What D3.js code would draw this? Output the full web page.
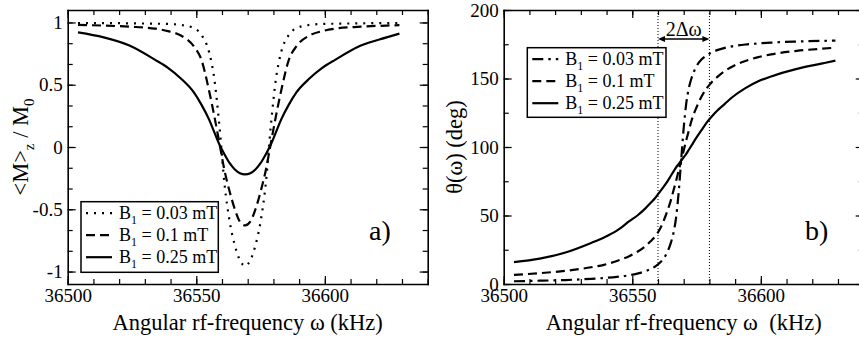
<!DOCTYPE html>
<html>
<head>
<meta charset="utf-8">
<script src="https://cdnjs.cloudflare.com/ajax/libs/d3/7.8.5/d3.min.js"></script>
<style>
  body { margin: 0; background: #fff; }
</style>
</head>
<body>
<div id="chart"></div>
<script>
// Two panel figure: <M>z/M0 and theta(omega) against rf-frequency

// Data (kHz)
const freqA = [36504, 36514, 36524, 36534, 36539, 36544, 36549, 36552, 36555, 36557, 36559, 36561, 36563, 36565, 36567, 36569,
  36571, 36573, 36575, 36577, 36579, 36581, 36583, 36586, 36589, 36594, 36599, 36604, 36614, 36624, 36629]
const mzDotted = [0.995, 0.995, 0.993, 0.99, 0.988, 0.98, 0.955, 0.90, 0.76, 0.55, 0.17, -0.30, -0.60, -0.79, -0.91, -0.955,
  -0.91, -0.79, -0.60, -0.30, 0.17, 0.55, 0.76, 0.90, 0.955, 0.98, 0.988, 0.99, 0.993, 0.995, 0.995]
const mzDashed = [0.98, 0.975, 0.966, 0.95, 0.93, 0.895, 0.81, 0.70, 0.45, 0.25, 0.03, -0.19, -0.36, -0.50, -0.60, -0.63,
  -0.60, -0.50, -0.36, -0.19, 0.03, 0.25, 0.45, 0.70, 0.81, 0.895, 0.93, 0.95, 0.966, 0.975, 0.978]
const mzSolid = [0.92, 0.88, 0.815, 0.70, 0.635, 0.55, 0.44, 0.34, 0.22, 0.12, 0.02, -0.06, -0.13, -0.18, -0.21, -0.22,
  -0.21, -0.18, -0.13, -0.06, 0.02, 0.12, 0.22, 0.34, 0.44, 0.55, 0.635, 0.70, 0.815, 0.88, 0.91]

const freqB = [36504, 36514, 36524, 36534, 36539, 36544, 36549, 36552, 36555, 36557, 36559, 36561, 36563, 36565, 36566, 36567, 36568,
  36569, 36570, 36571, 36572, 36573, 36575, 36577, 36579, 36581, 36583, 36586, 36589, 36594, 36599, 36604, 36614, 36624, 36629]
const thetaDotDash = [2, 2.4, 2.9, 3.8, 4.4, 5.2, 6.4, 7.6, 9.2, 10.8, 12.9, 16, 21, 30, 37, 48, 66,
  90, 114, 132, 143, 150, 159, 164, 167, 169, 170.7, 172.4, 173.5, 174.8, 175.6, 176.2, 177, 177.5, 177.7]
const thetaDashed = [6.7, 7.9, 9.6, 12.2, 14, 16.8, 20.5, 23.5, 27.5, 31, 35, 41, 50, 61, 68, 75, 82.5,
  90, 97.5, 105, 112, 119, 129, 137, 143, 147.5, 151, 155.5, 158.8, 162.8, 165.6, 167.6, 170.2, 171.8, 172.5]
const thetaSolid = [16, 18.5, 23, 30, 34, 39, 46, 50, 55, 59, 63, 68, 73, 79, 82, 85, 87.5,
  90, 92.5, 95, 98, 101, 107, 112.5, 118, 122.5, 126.5, 131.5, 136.5, 143, 148, 151.5, 157, 161, 163]

const b1Labels = ['0.03', '0.1', '0.25']
const xTicks = [36500, 36550, 36600]
const mzTicks = [-1, -0.5, 0, 0.5, 1]
const thetaTicks = [0, 50, 100, 150, 200]
const widthMarks = [36560, 36580]

// Size of the picture and of the plot boxes
const width = 859
const height = 340
const plotTop = 10
const plotBottom = 284
const serif = '"Liberation Serif", "DejaVu Serif", "Times New Roman", Times, serif'

const svg = d3.select('#chart')
  .append('svg')
  .attr('width', width)
  .attr('height', height)
  .style('display', 'block')
  .style('font-family', serif)

// Scales
const xA = d3.scaleLinear().domain([36500, 36640]).range([67.7, 427.7])
const yA = d3.scaleLinear().domain([-1.1, 1.1]).range([plotBottom, plotTop])
const xB = d3.scaleLinear().domain([36500, 36640]).range([503.7, 863.7])
const yB = d3.scaleLinear().domain([0, 200]).range([plotBottom, plotTop])

const xMinor = d3.range(36500, 36641, 10)

// Frame with inward ticks on all four sides
function drawAxes(x, y, yMajor, yMinor) {
  const g = svg.append('g')
  const [x0, x1] = x.range()
  const tickLen = 8
  const minorLen = 5

  const sides = [
    { axis: d3.axisBottom, scale: x, pos: `translate(0,${plotBottom})`, major: xTicks, minor: xMinor, label: true, pad: 5 },
    { axis: d3.axisTop, scale: x, pos: `translate(0,${plotTop})`, major: xTicks, minor: xMinor, label: false },
    { axis: d3.axisLeft, scale: y, pos: `translate(${x0},0)`, major: yMajor, minor: yMinor, label: true, pad: 5 },
    { axis: d3.axisRight, scale: y, pos: `translate(${x1},0)`, major: yMajor, minor: yMinor, label: false }
  ]

  sides.forEach(s => {
    g.append('g')
      .attr('transform', s.pos)
      .call(s.axis(s.scale).tickValues(s.minor).tickSize(-minorLen).tickSizeOuter(0).tickFormat(''))
      .call(a => a.select('.domain').remove())

    const ax = g.append('g')
      .attr('transform', s.pos)
      .call(s.axis(s.scale).tickValues(s.major).tickSize(-tickLen).tickSizeOuter(0)
        .tickPadding(s.pad || 3)
        .tickFormat(s.label ? d => String(d) : ''))
      .attr('font-family', null)
      .attr('font-size', 19)
    ax.select('.domain')
      .attr('stroke-width', 1.6)
      .attr('stroke-linecap', 'square')
  })

  g.selectAll('.tick line').attr('stroke-width', 1.2)
  g.selectAll('.tick text').attr('fill', '#000').style('font-family', serif)
}

drawAxes(xA, yA, mzTicks, d3.range(-1, 1.01, 1 / 6))
drawAxes(xB, yB, thetaTicks, d3.range(0, 201, 25))

// Curves
const seriesA = [
  { values: mzDotted, dash: '2,6' },
  { values: mzDashed, dash: '9,5' },
  { values: mzSolid, dash: null }
]
const seriesB = [
  { values: thetaDotDash, dash: '11,5,2.5,5' },
  { values: thetaDashed, dash: '9,5' },
  { values: thetaSolid, dash: null }
]

function drawLines(series, freq, x, y) {
  const line = d3.line()
    .x((d, i) => x(freq[i]))
    .y(d => y(d))
    .curve(d3.curveMonotoneX)
  series.forEach(s => {
    svg.append('path')
      .attr('d', line(s.values))
      .attr('fill', 'none')
      .attr('stroke', '#000')
      .attr('stroke-width', 2.2)
      .attr('stroke-dasharray', s.dash)
  })
}

drawLines(seriesA, freqA, xA, yA)

// Dotted marks of the width 2 delta omega
widthMarks.forEach(f => {
  svg.append('line')
    .attr('x1', xB(f)).attr('x2', xB(f))
    .attr('y1', plotTop).attr('y2', plotBottom)
    .attr('stroke', '#000')
    .attr('stroke-width', 1)
    .attr('stroke-dasharray', '1,2')
})

drawLines(seriesB, freqB, xB, yB)

// Double arrow with its label
const arrowY = 39
const ax0 = xB(widthMarks[0])
const ax1 = xB(widthMarks[1])
svg.append('line')
  .attr('x1', ax0 + 2).attr('x2', ax1 - 2)
  .attr('y1', arrowY).attr('y2', arrowY)
  .attr('stroke', '#000')
  .attr('stroke-width', 1.3)
svg.append('path')
  .attr('d', `M${ax0},${arrowY} l7,-3 l0,6 z M${ax1},${arrowY} l-7,-3 l0,6 z`)
  .attr('fill', '#000')
svg.append('text')
  .attr('x', (ax0 + ax1) / 2)
  .attr('y', 36)
  .attr('text-anchor', 'middle')
  .attr('font-size', 20)
  .text('2Δω')

// Legends
function drawLegend(box, series) {
  const g = svg.append('g')
  g.append('rect')
    .attr('x', box.x).attr('y', box.y)
    .attr('width', box.w).attr('height', box.h)
    .attr('fill', '#fff')
    .attr('stroke', '#000')
    .attr('stroke-width', 1.5)
  series.forEach((s, i) => {
    const cy = box.y + 11.5 + i * 22
    g.append('line')
      .attr('x1', box.x + 5).attr('x2', box.x + 31)
      .attr('y1', cy).attr('y2', cy)
      .attr('stroke', '#000')
      .attr('stroke-width', 2.2)
      .attr('stroke-dasharray', s.dash)
    const t = g.append('text')
      .attr('x', box.x + 38)
      .attr('y', cy + 6)
      .attr('font-size', 18)
    t.append('tspan').text('B')
    t.append('tspan').attr('dy', 5).attr('font-size', 12).text('1')
    t.append('tspan').attr('dy', -5).text(` = ${b1Labels[i]} mT`)
  })
}

drawLegend({ x: 81, y: 201.7, w: 137.3, h: 70.6 }, seriesA)
drawLegend({ x: 527.3, y: 47.7, w: 138.7, h: 69.6 }, seriesB)

// Axis titles
svg.append('text')
  .attr('x', d3.mean(xA.range()))
  .attr('y', 330)
  .attr('text-anchor', 'middle')
  .attr('font-size', 22.5)
  .text('Angular rf-frequency ω (kHz)')

svg.append('text')
  .attr('x', 683.7)
  .attr('y', 330)
  .attr('text-anchor', 'middle')
  .attr('font-size', 22.5)
  .style('white-space', 'pre')
  .text('Angular rf-frequency ω  (kHz)')

const yTitleA = svg.append('text')
  .attr('transform', `translate(28,${d3.mean(yA.range())}) rotate(-90)`)
  .attr('text-anchor', 'middle')
  .attr('font-size', 22.5)
yTitleA.append('tspan').text('<M>')
yTitleA.append('tspan').attr('dy', 6).attr('font-size', 15).text('z')
yTitleA.append('tspan').attr('dy', -6).text(' / M')
yTitleA.append('tspan').attr('dy', 6).attr('font-size', 15).text('0')

svg.append('text')
  .attr('transform', `translate(462,${d3.mean(yB.range())}) rotate(-90)`)
  .attr('text-anchor', 'middle')
  .attr('font-size', 22.5)
  .text('θ(ω) (deg)')

// Panel letters
svg.append('text')
  .attr('x', 369).attr('y', 240)
  .attr('font-size', 28)
  .text('a)')

svg.append('text')
  .attr('x', 805).attr('y', 240)
  .attr('font-size', 28)
  .text('b)')
</script>
</body>
</html>
